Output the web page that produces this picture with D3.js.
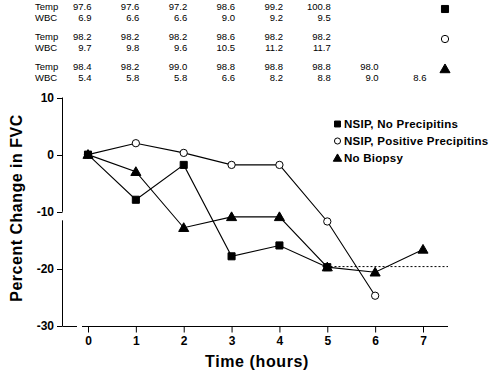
<!DOCTYPE html>
<html>
<head>
<meta charset="utf-8">
<script src="https://cdn.jsdelivr.net/npm/d3@7"></script>
<style>
  body { margin: 0; background: #fff; }
  svg { display: block; font-family: "Liberation Sans", Arial, sans-serif; }
</style>
</head>
<body>
<div id="chart"></div>
<script>
(function(d3) {

  'use strict';

  // time points (hours)
  var hours = [0, 1, 2, 3, 4, 5, 6, 7];
  var xTicks = [0, 1, 2, 3, 4, 5, 6, 7];
  var yTicks = [10, 0, -10, -20, -30];

  var seriesNames = ['NSIP, No Precipitins', 'NSIP, Positive Precipitins', 'No Biopsy'];
  var seriesShapes = ['square', 'circle', 'triangle'];

  // percent change in FVC
  var noPrecipitins = [0, -7.9, -1.8, -17.8, -15.9, -19.7];
  var positivePrecipitins = [0, 2.0, 0.3, -1.8, -1.8, -11.7, -24.7];
  var noBiopsy = [0, -3.0, -12.8, -10.9, -10.9, -19.7, -20.6, -16.6];

  var baselineLevel = -19.6;
  var baselineFrom = 4.9;

  // table above the chart
  var tempNoPrecipitins = ['97.6', '97.6', '97.2', '98.6', '99.2', '100.8'];
  var wbcNoPrecipitins = ['6.9', '6.6', '6.6', '9.0', '9.2', '9.5'];
  var tempPositive = ['98.2', '98.2', '98.2', '98.6', '98.2', '98.2'];
  var wbcPositive = ['9.7', '9.8', '9.6', '10.5', '11.2', '11.7'];
  var tempNoBiopsy = ['98.4', '98.2', '99.0', '98.8', '98.8', '98.8', '98.0'];
  var wbcNoBiopsy = ['5.4', '5.8', '5.8', '6.6', '8.2', '8.8', '9.0', '8.6'];

  var width = 500, height = 373;

  var svg = d3.select('#chart').append('svg')
    .attr('width', width)
    .attr('height', height);

  var x = d3.scaleLinear().domain([0, 7]).range([88, 423]);
  var y = d3.scaleLinear().domain([-30, 10]).range([326, 97.5]);

  var symbolFor = function(shape, k) {
    k = k || 1;
    if (shape === 'square') return d3.symbol().type(d3.symbolSquare).size(50 * k)();
    if (shape === 'circle') return d3.symbol().type(d3.symbolCircle).size(42 * k)();
    return d3.symbol().type(d3.symbolTriangle).size(44 * k)();
  };

  var drawMarker = function(g, shape, cx, cy, k) {
    g.append('path')
      .attr('d', symbolFor(shape, k))
      .attr('transform', 'translate(' + cx + ',' + (shape === 'triangle' ? cy + 0.8 : cy) + ')')
      .attr('fill', shape === 'circle' ? '#fff' : '#000')
      .attr('stroke', '#000')
      .attr('stroke-width', 1);
  };

  // ---- table ----
  var table = svg.append('g').attr('font-size', 9.5).attr('fill', '#000');
  var rows = [
    { label: 'Temp', vals: tempNoPrecipitins, y: 10 },
    { label: 'WBC', vals: wbcNoPrecipitins, y: 21 },
    { label: 'Temp', vals: tempPositive, y: 40 },
    { label: 'WBC', vals: wbcPositive, y: 51 },
    { label: 'Temp', vals: tempNoBiopsy, y: 70 },
    { label: 'WBC', vals: wbcNoBiopsy, y: 81 }
  ];
  rows.forEach(function(r) {
    table.append('text')
      .attr('x', 35)
      .attr('y', r.y)
      .text(r.label);
    r.vals.forEach(function(v, i) {
      table.append('text')
        .attr('x', x(hours[i]) + 3.5)
        .attr('y', r.y)
        .attr('text-anchor', 'end')
        .text(v);
    });
  });
  var tableMarks = svg.append('g');
  seriesShapes.forEach(function(s, i) {
    drawMarker(tableMarks, s, 445, 9 + i * 30);
  });

  // ---- axes ----
  var axes = svg.append('g').attr('stroke', '#000').attr('stroke-width', 1).attr('fill', 'none');
  // broken y axis
  axes.append('line').attr('x1', 62.5).attr('x2', 62.5).attr('y1', y(10)).attr('y2', y(-10));
  axes.append('line').attr('x1', 62.5).attr('x2', 62.5).attr('y1', y(-11.5)).attr('y2', y(-30));
  yTicks.forEach(function(t) {
    axes.append('line')
      .attr('x1', 57).attr('x2', 62.5)
      .attr('y1', Math.round(y(t)) + 0.5).attr('y2', Math.round(y(t)) + 0.5);
  });
  axes.append('line').attr('x1', 62.5).attr('x2', 77)
    .attr('y1', Math.round(y(-30)) + 0.5).attr('y2', Math.round(y(-30)) + 0.5);

  // x axis
  var xAxis = d3.axisBottom(x).tickValues(xTicks).tickSize(6).tickPadding(4).tickFormat(d3.format('d'));
  var gx = svg.append('g')
    .attr('transform', 'translate(0,' + (Math.round(y(-30)) + 0.5) + ')')
    .call(xAxis);
  gx.select('.domain').attr('d', 'M82,0H448');
  gx.selectAll('text')
    .attr('font-size', 12)
    .attr('font-weight', 'bold')
    .attr('font-family', '"Liberation Sans", Arial, sans-serif');

  // y tick labels
  var ylab = svg.append('g').attr('font-size', 12).attr('font-weight', 'bold');
  yTicks.forEach(function(t) {
    ylab.append('text')
      .attr('x', 54)
      .attr('y', y(t))
      .attr('dy', '0.36em')
      .attr('text-anchor', 'end')
      .text(t);
  });

  // titles
  svg.append('text')
    .attr('x', 257)
    .attr('y', 367)
    .attr('text-anchor', 'middle')
    .attr('font-size', 16)
    .attr('letter-spacing', 0.6)
    .attr('font-weight', 'bold')
    .text('Time (hours)');
  svg.append('text')
    .attr('transform', 'translate(22,208) rotate(-90)')
    .attr('text-anchor', 'middle')
    .attr('font-size', 16)
    .attr('letter-spacing', 0.5)
    .attr('font-weight', 'bold')
    .text('Percent Change in FVC');

  // ---- dotted reference ----
  svg.append('line')
    .attr('x1', x(baselineFrom)).attr('x2', 448)
    .attr('y1', y(baselineLevel)).attr('y2', y(baselineLevel))
    .attr('stroke', '#000')
    .attr('stroke-width', 1)
    .attr('stroke-dasharray', '2,2');

  // ---- series ----
  var allSeries = [noBiopsy, positivePrecipitins, noPrecipitins];
  var allShapes = ['triangle', 'circle', 'square'];
  var line = d3.line()
    .x(function(d, i) { return x(hours[i]); })
    .y(function(d) { return y(d); });

  var plot = svg.append('g');
  allSeries.forEach(function(s) {
    plot.append('path')
      .attr('d', line(s))
      .attr('fill', 'none')
      .attr('stroke', '#000')
      .attr('stroke-width', 1.1);
  });
  allSeries.forEach(function(s, k) {
    s.forEach(function(v, i) {
      drawMarker(plot, allShapes[k], x(hours[i]), y(v));
    });
  });

  // ---- legend ----
  var legend = svg.append('g').attr('font-size', 11.5).attr('letter-spacing', 0.25).attr('font-weight', 'bold');
  seriesNames.forEach(function(name, i) {
    var ly = 124 + i * 17;
    drawMarker(legend, seriesShapes[i], 337.5, ly, 0.7);
    legend.append('text')
      .attr('x', 344)
      .attr('y', ly)
      .attr('dy', '0.36em')
      .text(name);
  });

})(d3);
</script>
</body>
</html>
